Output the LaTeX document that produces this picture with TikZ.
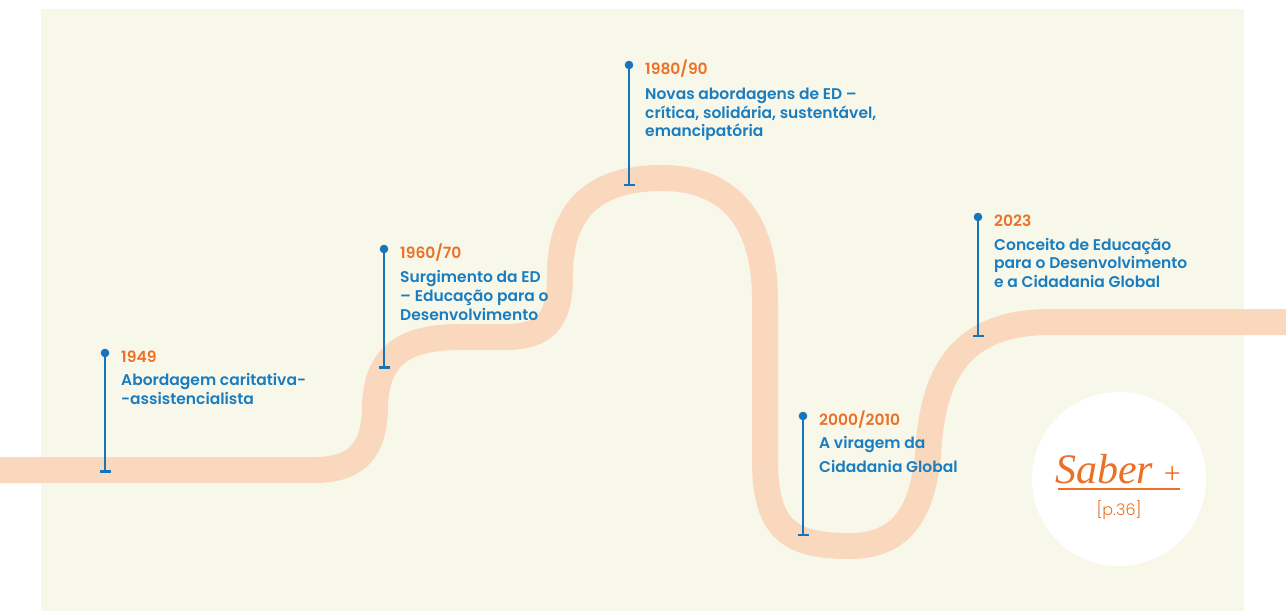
\documentclass[tikz,border=0pt]{standalone}
\usepackage{fontspec}
\setmainfont{Poppins}
\newfontfamily\semib{Poppins SemiBold}
\newfontfamily\lightf{Poppins Light}
\newfontfamily\serifit{Liberation Serif}
\definecolor{creamC}{RGB}{248,248,234}
\definecolor{peachC}{RGB}{249,216,189}
\definecolor{blueP}{RGB}{22,117,184}
\definecolor{blueT}{RGB}{26,125,192}
\definecolor{orangeC}{RGB}{236,112,37}
\begin{document}
\begin{tikzpicture}[x=1pt,y=-1pt,
  yeartxt/.style={anchor=base west,inner sep=0,text=orangeC,font=\semib\fontsize{15.5}{19}\selectfont},
  desctxt/.style={anchor=base west,inner sep=0,text=blueT,font=\semib\fontsize{15.5}{19}\selectfont},
  road/.style={draw=peachC,line width=26pt},
  pinline/.style={draw=blueP,line width=2.6pt},
  pinbar/.style={draw=blueP,line width=2.4pt},
  pindot/.style={fill=blueP}]
\useasboundingbox (0,0) rectangle (1286,611);
\fill[creamC] (41,9) rectangle (1244,611);
% road
\draw[road] (-10,470) -- (315,470) .. controls (365,470) and (375,440) .. (375,405)
  .. controls (377,355) and (405,337) .. (460,337) -- (505,337)
  .. controls (550,337) and (560,315) .. (560,275)
  .. controls (560,200) and (605,178) .. (662,178)
  .. controls (725,178) and (765,215) .. (765,300)
  -- (765,460)
  .. controls (765,530) and (790,546) .. (850,546)
  .. controls (900,546) and (922,515) .. (928,455)
  .. controls (932,380) and (955,322) .. (1050,322)
  -- (1300,322);
% pins
\coordinate (p1t) at (105,353); \coordinate (p1b) at (105,471.5);
\coordinate (p2t) at (384,249); \coordinate (p2b) at (384,367.5);
\coordinate (p3t) at (629,65);  \coordinate (p3b) at (629,185);
\coordinate (p4t) at (803,416); \coordinate (p4b) at (803,535);
\coordinate (p5t) at (978,217); \coordinate (p5b) at (978,336);
\foreach \p in {p1,p2,p3,p4,p5}{
  \draw[pinline] (\p t) -- (\p b);
  \draw[pinbar] ([xshift=-5.5pt]\p b) -- ([xshift=5.5pt]\p b);
  \fill[pindot] (\p t) circle (4.3pt);
}
% texts
\node[yeartxt] (y1) at (121,362) {1949};
\node[desctxt] (d1a) at (121,385) {Abordagem caritativa-};
\node[desctxt] (d1b) at (121,404) {-assistencialista};

\node[yeartxt] (y2) at (400,258) {1960/70};
\node[desctxt] (d2a) at (400,282) {Surgimento da ED};
\node[desctxt] (d2b) at (400,301) {– Educação para o};
\node[desctxt] (d2c) at (400,320) {Desenvolvimento};

\node[yeartxt] (y3) at (645,74) {1980/90};
\node[desctxt] (d3a) at (645,99) {Novas abordagens de ED –};
\node[desctxt] (d3b) at (645,118) {crítica, solidária, sustentável,};
\node[desctxt] (d3c) at (645,136) {emancipatória};

\node[yeartxt] (y4) at (819,425) {2000/2010};
\node[desctxt] (d4a) at (819,448) {A viragem da};
\node[desctxt] (d4b) at (819,472) {Cidadania Global};

\node[yeartxt] (y5) at (994,226) {2023};
\node[desctxt] (d5a) at (994,250) {Conceito de Educação};
\node[desctxt] (d5b) at (994,268.5) {para o Desenvolvimento};
\node[desctxt] (d5c) at (994,287) {e a Cidadania Global};
% saber +
\fill[white] (1119,479) circle (87pt);
\node[anchor=base,inner sep=0,text=orangeC,font=\serifit\itshape\fontsize{42}{42}\selectfont] (saber) at (1118,483) {Saber {\upshape\fontsize{30}{30}\selectfont+}};
\draw[orangeC,line width=2pt] (1058,488.5) -- (1180,488.5);
\node[anchor=base,inner sep=0,text=orangeC,font=\lightf\fontsize{16}{16}\selectfont] (page) at (1119,515) {[p.36]};
\end{tikzpicture}
\end{document}
